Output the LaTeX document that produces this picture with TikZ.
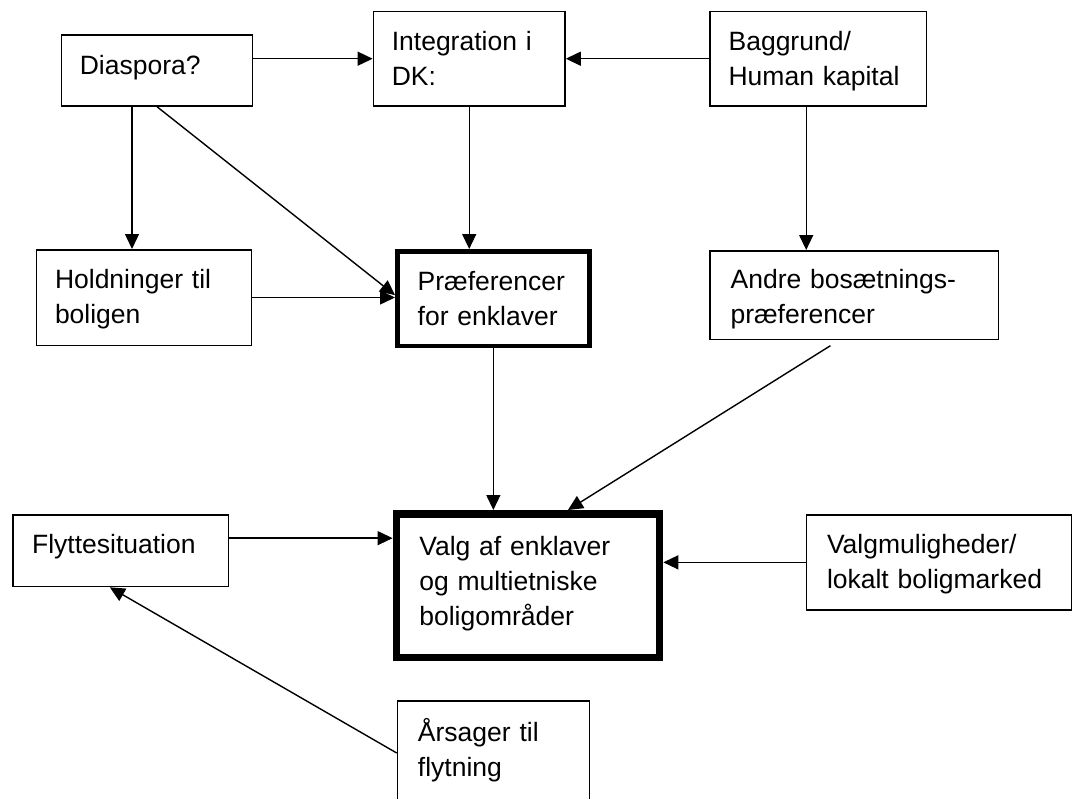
\documentclass[tikz,border=0pt]{standalone}
\usepackage{fontspec}
\setmainfont{Liberation Sans}
\usetikzlibrary{arrows.meta,calc}
\tikzset{
  box/.style={draw, line width=1.5pt, inner sep=0pt, anchor=north west},
  boxthick/.style={box, line width=4.5pt},
  boxheavy/.style={box, line width=7.5pt},
  txt/.style={anchor=base west, inner sep=0pt, text width=300pt, align=left,
    font=\fontsize{26.5}{35}\selectfont},
  arr/.style={line width=1.4pt, -{Triangle[length=15pt,width=14pt]}},
}
\begin{document}
\begin{tikzpicture}[x=1pt,y=-1pt]
\useasboundingbox (0,0) rectangle (1078,798);
\fill[white] (0,0) rectangle (1078,798);
\clip (0,0) rectangle (1078,798);

% boxes
\node[box, minimum width=191.3pt, minimum height=71.2pt] (dia) at (60.6,34) {};
\node[box, minimum width=191.7pt, minimum height=94.5pt] (integ) at (372.6,10.7) {};
\node[box, minimum width=216.1pt, minimum height=94.5pt] (bagg) at (709.4,10.7) {};
\node[box, minimum width=215.1pt, minimum height=95.5pt] (hold) at (35.8,249) {};
\node[boxthick, minimum width=192.2pt, minimum height=94.8pt] (praef) at (395,249) {};
\node[box, minimum width=288.5pt, minimum height=88.5pt] (andre) at (709.4,250) {};
\node[box, minimum width=215.4pt, minimum height=71.8pt] (flytte) at (12.4,514) {};
\node[boxheavy, minimum width=263.2pt, minimum height=143.5pt] (valg) at (392.6,510) {};
\node[box, minimum width=265pt, minimum height=95.2pt] (valgmul) at (805.5,514) {};
\node[box, minimum width=191.8pt, minimum height=128.5pt] (arsag) at (396.7,700) {};

% texts
\node[txt] (tdia) at ($(dia.north west)+(19,40.5)$) {Diaspora?};
\node[txt] (tinteg) at ($(integ.north west)+(19,39.3)$) {Integration i\\DK:};
\node[txt] (tbagg) at ($(bagg.north west)+(19,39.3)$) {Baggrund/\\Human kapital};
\node[txt] (thold) at ($(hold.north west)+(19,39.3)$) {Holdninger til\\boligen};
\node[txt] (tpraef) at ($(praef.north west)+(22.5,41)$) {Præferencer\\for enklaver};
\node[txt] (tandre) at ($(andre.north west)+(21,38.3)$) {Andre bosætnings-\\præferencer};
\node[txt] (tflytte) at ($(flytte.north west)+(19.5,39.5)$) {Flyttesituation};
\node[txt] (tvalg) at ($(valg.north west)+(26.5,45.5)$) {Valg af enklaver\\og multietniske\\boligområder};
\node[txt] (tvalgmul) at ($(valgmul.north west)+(21.3,39.3)$) {Valgmuligheder/\\lokalt boligmarked};
\node[txt] (tarsag) at ($(arsag.north west)+(21,41.7)$) {Årsager til\\flytning};

% connectors
\draw[arr] (dia.east |- integ.west) -- (integ.west);
\draw[arr] (bagg.west) -- (integ.east);
\draw[arr] ([xshift=-25pt]dia.south) -- ([xshift=-25pt]dia.south |- hold.north);
\draw[arr] (dia.south) -- ([yshift=3.5pt]praef.west);
\draw[arr] (hold.east) -- (hold.east -| praef.west);
\draw[arr] (integ.south) -- (integ.south |- praef.north);
\draw[arr] ([xshift=-12pt]bagg.south) -- ([xshift=-12pt]bagg.south |- andre.north);
\draw[arr] (praef.south) -- (praef.south |- valg.north);
\draw[arr] ($(andre.south)+(-24,5.7)$) -- ([xshift=40pt]valg.north);
\draw[arr] ([yshift=12.5pt]flytte.east) -- ([yshift=12.5pt]flytte.east -| valg.west);
\draw[arr] (valgmul.west) -- (valgmul.west -| valg.east);
\draw[arr] ($(arsag.north west)+(0,53)$) -- ([xshift=-11pt]flytte.south);
\end{tikzpicture}
\end{document}
